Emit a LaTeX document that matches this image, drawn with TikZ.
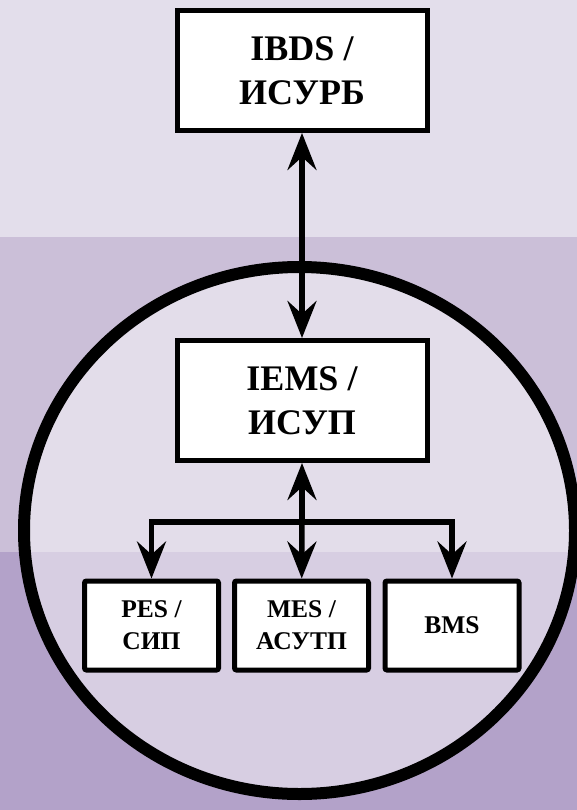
\documentclass[tikz,border=0pt]{standalone}
\usepackage{fontspec}
\setmainfont{Liberation Serif}
\usepackage{tikz}
\usetikzlibrary{arrows.meta}

\definecolor{bandtop}{HTML}{E3DEEB}
\definecolor{bandmid}{HTML}{CBBFD8}
\definecolor{bandlow}{HTML}{B3A2C9}

\tikzset{
	sysbox/.style={draw=black, fill=white, line width=5pt, inner sep=0pt,
		minimum width=250pt, minimum height=120pt, align=center,
		font=\fontsize{36}{44}\selectfont\bfseries},
	subbox/.style={draw=black, fill=white, line width=5pt, inner sep=0pt,
		rounded corners=2pt, minimum width=134pt, minimum height=89pt, align=center,
		font=\fontsize{25.5}{32}\selectfont\bfseries},
	link/.style={line width=5.5pt},
	>={Stealth[length=37pt, width=29pt, inset=13pt]}
}

\begin{document}
\begin{tikzpicture}[x=1pt, y=-1pt]
		
		\useasboundingbox (0,0) rectangle (577,810);
		
		% background bands
		\fill[bandtop] (0,0) rectangle (577,237);
		\fill[bandmid] (0,237) rectangle (577,552);
		\fill[bandlow] (0,552) rectangle (577,810);
		
		% enterprise circle
		\fill[white, opacity=.48] (299.5,530.5) ellipse [x radius=275.5, y radius=263.5];
		\draw[line width=12pt] (299.5,530.5) ellipse [x radius=275.5, y radius=263.5];
		
		% systems
		\node[sysbox] (ibds) at (302,70.5) {IBDS /\\ИСУРБ};
		\node[sysbox] (iems) at (302,400.5) {IEMS /\\ИСУП};
		
		\node[subbox] (pes) at (151.5,625.5) {PES /\\СИП};
		\node[subbox] (mes) at (301.5,625.5) {MES /\\АСУТП};
		\node[subbox] (bms) at (452,625.5) {BMS};
		
		% links
		\draw[link, <->] (iems) -- (ibds);
		
		\coordinate (fork) at (302,522);
		\draw[link, ->] (fork) -- (iems);
		\draw[link, ->] (fork) -| (pes);
		\draw[link, ->] (fork) -- (mes);
		\draw[link, ->] (fork) -| (bms);
		
	\end{tikzpicture}
\end{document}
